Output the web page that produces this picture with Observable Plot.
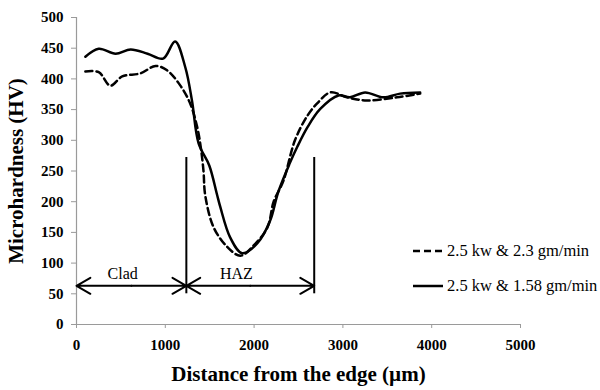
<!DOCTYPE html>
<html>
<head>
<meta charset="utf-8">
<script src="https://cdn.jsdelivr.net/npm/d3@7"></script>
<script src="https://cdn.jsdelivr.net/npm/@observablehq/plot@0.6"></script>
<style>
  html, body { margin: 0; padding: 0; background: white; }
  #wrap { position: relative; width: 600px; height: 390px; }
  #legend { position: absolute; left: 413px; top: 241px; font-family: 'Liberation Serif', 'Times New Roman', serif; font-size: 16.5px; color: black; }
  #legend .row { display: flex; align-items: center; height: 20px; margin-bottom: 15px; white-space: nowrap; }
  #legend svg { margin-right: 4px; }
  #wrap svg text { font-family: 'Liberation Serif', 'Times New Roman', serif; }
</style>
</head>
<body>
<div id="wrap"><div id="legend"></div></div>
<script>
// Series 1: 2.5 kw & 2.3 gm/min (dashed)
const dashedX = [100, 250, 380, 515, 720, 890, 1020, 1170, 1280, 1360, 1400, 1430, 1450, 1545, 1700, 1845, 1990, 2150, 2220, 2330, 2460, 2600, 2710, 2860, 3045, 3270, 3610, 3870];
const dashedY = [412, 411, 389, 404, 409, 421, 414, 389, 360, 321, 288, 250, 210, 158, 126, 112, 128, 158, 200, 234, 300, 340, 360, 378, 370, 365, 370, 376];
// Series 2: 2.5 kw & 1.58 gm/min (solid)
const solidX = [100, 250, 440, 610, 800, 975, 1110, 1225, 1300, 1375, 1495, 1580, 1620, 1730, 1865, 2035, 2180, 2270, 2400, 2485, 2600, 2745, 2950, 3080, 3250, 3455, 3645, 3870];
const solidY = [436, 449, 441, 448, 441, 433, 461, 419, 365, 295, 259, 213, 191, 142, 116, 132, 169, 215, 262, 289, 321, 351, 373, 370, 378, 370, 376, 378];
const seriesNames = ["2.5 kw & 2.3 gm/min", "2.5 kw & 1.58 gm/min"];
const xTicks = [0, 1000, 2000, 3000, 4000, 5000];
const yTicks = [0, 50, 100, 150, 200, 250, 300, 350, 400, 450, 500];
// Zone annotations
const zoneBounds = [1237, 2677];
const zoneLineTop = 272;
const zoneLineBottom = 50;
const zoneArrowY = 63;
const zoneNames = ["Clad", "HAZ"];
const zoneStart = [0, 1237];
const zoneEnd = [1237, 2677];
const zoneLabelX = [520, 1800];
const zoneLabelY = 83;
const xTitle = "Distance from the edge (µm)";
const yTitle = "Microhardness (HV)";

const dashed = dashedX.map((x, i) => ({x, y: dashedY[i]}));
const solid = solidX.map((x, i) => ({x, y: solidY[i]}));
const zones = zoneNames.map((name, i) => ({name, x1: zoneStart[i], x2: zoneEnd[i], lx: zoneLabelX[i]}));
// each double-headed arrow = two arrows from the zone midpoint out to its ends
const arrowHalves = zones.flatMap(z => {
  const mid = (z.x1 + z.x2) / 2;
  return [{from: mid, to: z.x1}, {from: mid, to: z.x2}];
});

const serif = "'Liberation Serif', 'Times New Roman', serif";

const chart = Plot.plot({
  width: 600, height: 390,
  marginLeft: 76, marginRight: 80, marginTop: 17, marginBottom: 66,
  x: {domain: [0, 5000]},
  y: {domain: [0, 500]},
  style: {fontFamily: serif, fontSize: "15px", fontWeight: "bold", color: "black", background: "white"},
  marks: [
    Plot.ruleY([0], {stroke: "#9a9a9a", strokeWidth: 1.2}),
    Plot.ruleX([0], {stroke: "#9a9a9a", strokeWidth: 1.2}),
    Plot.axisY({ticks: yTicks, tickSize: 5, tickPadding: 8, stroke: "#9a9a9a", fill: "black", fontFamily: serif, fontVariant: "normal", tickFormat: d => String(d), label: null}),
    Plot.axisX({ticks: xTicks, tickSize: 4, tickPadding: 11, stroke: "#9a9a9a", fill: "black", fontFamily: serif, fontVariant: "normal", tickFormat: d => String(d), label: null}),
    Plot.line(dashed, {x: "x", y: "y", curve: "catmull-rom", stroke: "black", strokeWidth: 2.5, strokeDasharray: "7,4"}),
    Plot.line(solid, {x: "x", y: "y", curve: "catmull-rom", stroke: "black", strokeWidth: 2.5}),
    Plot.ruleX(zoneBounds, {y1: zoneLineBottom, y2: zoneLineTop, stroke: "black", strokeWidth: 2}),
    Plot.arrow(arrowHalves, {x1: "from", x2: "to", y1: zoneArrowY, y2: zoneArrowY, stroke: "black", strokeWidth: 2, headLength: 12}),
    Plot.text(zones, {x: "lx", y: zoneLabelY, text: "name", fontSize: 16, fontWeight: "normal", fontFamily: serif, fill: "black"}),
    Plot.text([xTitle], {frameAnchor: "bottom", dy: 56, fontSize: 21, fontWeight: "bold", fontFamily: serif, fill: "black"}),
    Plot.text([yTitle], {frameAnchor: "left", textAnchor: "middle", rotate: -90, dx: -60, fontSize: 21, fontWeight: "bold", fontFamily: serif, fill: "black"})
  ]
});
document.getElementById("wrap").prepend(chart);

const legend = document.getElementById("legend");
const dashes = ["7,4", null];
seriesNames.forEach((name, i) => {
  const row = document.createElement("div");
  row.className = "row";
  row.innerHTML = `<svg width="30" height="6"><line x1="0" y1="3" x2="30" y2="3" stroke="black" stroke-width="2.5" ${dashes[i] ? `stroke-dasharray="${dashes[i]}"` : ""}/></svg><span>${name.replace("&", "&amp;")}</span>`;
  legend.appendChild(row);
});
</script>
</body>
</html>
